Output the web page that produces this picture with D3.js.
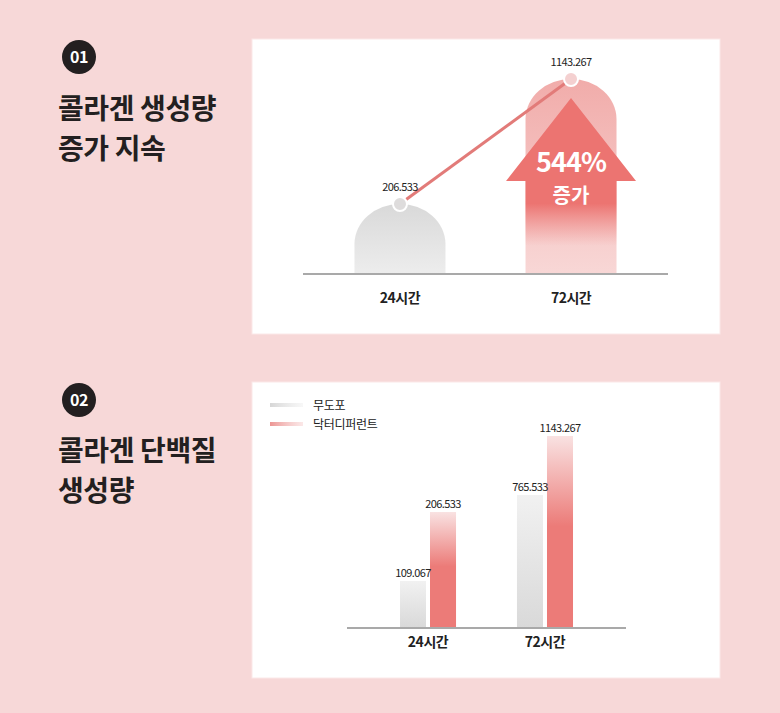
<!DOCTYPE html>
<html>
<head>
<meta charset="utf-8">
<script src="https://cdn.jsdelivr.net/npm/d3@7"></script>
<style>
  body { margin: 0; background: #f7d8d8; }
  svg { display: block; font-family: "Noto Sans CJK KR", "Noto Sans", sans-serif; }
</style>
</head>
<body>
<svg id="chart" width="780" height="713"></svg>
<script>
// data
var categories = ["24시간", "72시간"];
var growthValues = [206.533, 1143.267];
var increaseText = ["544%", "증가"];
var seriesNames = ["무도포", "닥터디퍼런트"];
var untreatedValues = [109.067, 765.533];
var drDifferentValues = [206.533, 1143.267];
var titles1 = ["콜라겐 생성량", "증가 지속"];
var titles2 = ["콜라겐 단백질", "생성량"];
var fmt = d3.format(".3f");

var svg = d3.select("#chart");
var defs = svg.append("defs");

function vGrad(id, stops, y1, y2) {
  var g = defs.append("linearGradient").attr("id", id)
    .attr("x1", 0).attr("x2", 0).attr("y1", y1 || 0).attr("y2", y2 || 1);
  stops.forEach(function(s) {
    g.append("stop").attr("offset", s[0]).attr("stop-color", s[1])
      .attr("stop-opacity", s[2] == null ? 1 : s[2]);
  });
  return g;
}
function hGrad(id, stops) {
  var g = defs.append("linearGradient").attr("id", id)
    .attr("x1", 0).attr("x2", 1).attr("y1", 0).attr("y2", 0);
  stops.forEach(function(s) {
    g.append("stop").attr("offset", s[0]).attr("stop-color", s[1])
      .attr("stop-opacity", s[2] == null ? 1 : s[2]);
  });
}

vGrad("archGray", [[0, "#d9d9d9"], [1, "#ededed"]]);
vGrad("archRed", [[0, "#f1acaa"], [1, "#f8d7d6"]]);
vGrad("barGray", [[0, "#f1f1f1"], [1, "#d9d9d9"]]);
vGrad("barRed", [[0, "#f9e2e2"], [0.47, "#ec7b78"], [1, "#ec7b78"]]);
hGrad("legGray", [[0, "#d6d6d6"], [1, "#f2f2f2", 0.6]]);
hGrad("legRed", [[0, "#ec9593"], [1, "#f8d8d8", 0.6]]);

// panels
svg.append("rect").attr("x", 252).attr("y", 39).attr("width", 468).attr("height", 295)
  .attr("fill", "#fff").attr("stroke", "#fbe8e8");
svg.append("rect").attr("x", 252).attr("y", 382).attr("width", 468).attr("height", 296)
  .attr("fill", "#fff").attr("stroke", "#fbe8e8");

// headings
function heading(num, cy, lines, y0) {
  svg.append("circle").attr("cx", 79).attr("cy", cy).attr("r", 17).attr("fill", "#231f20");
  svg.append("text").attr("x", 79).attr("y", cy + 6).attr("text-anchor", "middle")
    .attr("fill", "#fff").style("font-size", "16px").style("font-weight", 700)
    .style("letter-spacing", "-0.5px").text(num);
  lines.forEach(function(t, i) {
    svg.append("text").attr("x", 58).attr("y", y0 + i * 40)
      .attr("fill", "#231f20").style("font-size", "28px").style("font-weight", 700)
      .style("letter-spacing", "-0.4px").text(t);
  });
}
heading("01", 57, titles1, 119);
heading("02", 400, titles2, 461);

// ---- chart 1 ----
var base1 = 274;
var x1 = d3.scaleBand().domain(categories).range([303, 668])
  .paddingInner(0.468).paddingOuter(0.301);
var y1 = d3.scaleLinear().domain([206.533, 1143.267]).range([204, 79]);
var ry = 40;

function archPath(d, i) {
  var x0 = x1(categories[i]), w = x1.bandwidth(), top = y1(d);
  return "M" + x0 + "," + base1 + "V" + (top + ry) +
    "A" + (w / 2) + "," + ry + " 0 0 1 " + (x0 + w) + "," + (top + ry) +
    "V" + base1 + "Z";
}
svg.append("g").selectAll("path").data(growthValues).enter().append("path")
  .attr("d", archPath)
  .attr("fill", function(d, i) { return i === 0 ? "url(#archGray)" : "url(#archRed)"; });

// arrow inside the 72h arch
var ac = x1(categories[1]) + x1.bandwidth() / 2;
var tipY = y1(growthValues[1]) + 19, headY = tipY + 83;
vGrad("arrowRed", [[0, "#ec7471"], [0.6, "#ec7471"], [0.84, "#ee8a88", 0]], 0, 1)
  .attr("gradientUnits", "userSpaceOnUse").attr("y1", tipY).attr("y2", base1).attr("x1", 0).attr("x2", 0);
svg.append("path")
  .attr("d", "M" + ac + "," + tipY + "L" + (ac + 65) + "," + headY +
    "H" + (x1(categories[1]) + x1.bandwidth()) + "V" + base1 +
    "H" + x1(categories[1]) + "V" + headY + "H" + (ac - 65) + "Z")
  .attr("fill", "url(#arrowRed)");
svg.append("text").attr("x", ac).attr("y", headY - 9).attr("text-anchor", "middle")
  .attr("fill", "#fff").style("font-size", "27px").style("font-weight", 700)
  .style("letter-spacing", "-1px").text(increaseText[0]);
svg.append("text").attr("x", ac).attr("y", headY + 22).attr("text-anchor", "middle")
  .attr("fill", "#fff").style("font-size", "20px").style("font-weight", 700)
  .text(increaseText[1]);

// connecting line + points
var line = d3.line()
  .x(function(d, i) { return x1(categories[i]) + x1.bandwidth() / 2; })
  .y(function(d) { return y1(d); });
svg.append("path").datum(growthValues).attr("d", line)
  .attr("fill", "none").attr("stroke", "#e27b79").attr("stroke-width", 3);
svg.append("g").selectAll("circle").data(growthValues).enter().append("circle")
  .attr("cx", function(d, i) { return x1(categories[i]) + x1.bandwidth() / 2; })
  .attr("cy", function(d) { return y1(d); })
  .attr("r", 7)
  .attr("fill", function(d, i) { return i === 0 ? "#dedcdc" : "#f4d0d0"; })
  .attr("stroke", "#fff").attr("stroke-width", 2);
svg.append("g").selectAll("text").data(growthValues).enter().append("text")
  .attr("x", function(d, i) { return x1(categories[i]) + x1.bandwidth() / 2; })
  .attr("y", function(d) { return y1(d) - 13; })
  .attr("text-anchor", "middle").attr("fill", "#222")
  .style("font-size", "11px").style("letter-spacing", "-0.6px")
  .text(function(d) { return fmt(d); });

svg.append("line").attr("x1", 303).attr("x2", 668).attr("y1", base1).attr("y2", base1)
  .attr("stroke", "#a9a9a9").attr("stroke-width", 2);
svg.append("g").selectAll("text").data(categories).enter().append("text")
  .attr("x", function(d) { return x1(d) + x1.bandwidth() / 2; })
  .attr("y", 303).attr("text-anchor", "middle").attr("fill", "#222")
  .style("font-size", "14px").style("font-weight", 700).style("letter-spacing", "-0.5px")
  .text(function(d) { return d; });

// ---- chart 2 ----
var base2 = 628;
var x0 = d3.scaleBand().domain(categories).range([347, 626])
  .paddingInner(0.521).paddingOuter(0.453);
var xs = d3.scaleBand().domain(seriesNames).range([0, x0.bandwidth()]).paddingInner(0.133);
// illustrative (non-proportional) bar heights of the original, as a piecewise scale
var y2 = d3.scaleLinear()
  .domain([0, 109.067, 206.533, 765.533, 1143.267])
  .range([base2, 581, 512, 495, 436]);

var rows = categories.map(function(c, i) {
  return { cat: c, vals: [untreatedValues[i], drDifferentValues[i]] };
});
var groups = svg.append("g").selectAll("g").data(rows).enter().append("g")
  .attr("transform", function(d) { return "translate(" + x0(d.cat) + ",0)"; });
groups.selectAll("rect").data(function(d) { return d.vals; }).enter().append("rect")
  .attr("x", function(d, i) { return xs(seriesNames[i]); })
  .attr("y", function(d) { return y2(d); })
  .attr("width", xs.bandwidth())
  .attr("height", function(d) { return base2 - y2(d); })
  .attr("fill", function(d, i) { return i === 0 ? "url(#barGray)" : "url(#barRed)"; });
groups.selectAll("text").data(function(d) { return d.vals; }).enter().append("text")
  .attr("x", function(d, i) { return xs(seriesNames[i]) + xs.bandwidth() / 2; })
  .attr("y", function(d) { return y2(d) - 4; })
  .attr("text-anchor", "middle").attr("fill", "#222")
  .style("font-size", "11px").style("letter-spacing", "-0.6px")
  .text(function(d) { return fmt(d); });

svg.append("line").attr("x1", 347).attr("x2", 626).attr("y1", base2).attr("y2", base2)
  .attr("stroke", "#a9a9a9").attr("stroke-width", 2);
svg.append("g").selectAll("text").data(categories).enter().append("text")
  .attr("x", function(d) { return x0(d) + x0.bandwidth() / 2; })
  .attr("y", 647).attr("text-anchor", "middle").attr("fill", "#222")
  .style("font-size", "14px").style("font-weight", 700).style("letter-spacing", "-0.5px")
  .text(function(d) { return d; });

// legend
var leg = svg.append("g").selectAll("g").data(seriesNames).enter().append("g")
  .attr("transform", function(d, i) { return "translate(270," + (405 + i * 19) + ")"; });
leg.append("rect").attr("x", 0).attr("y", -2).attr("width", 33).attr("height", 4)
  .attr("fill", function(d, i) { return i === 0 ? "url(#legGray)" : "url(#legRed)"; });
leg.append("text").attr("x", 43).attr("y", 5).attr("fill", "#222")
  .style("font-size", "12px").style("letter-spacing", "-0.3px")
  .text(function(d) { return d; });
</script>
</body>
</html>
